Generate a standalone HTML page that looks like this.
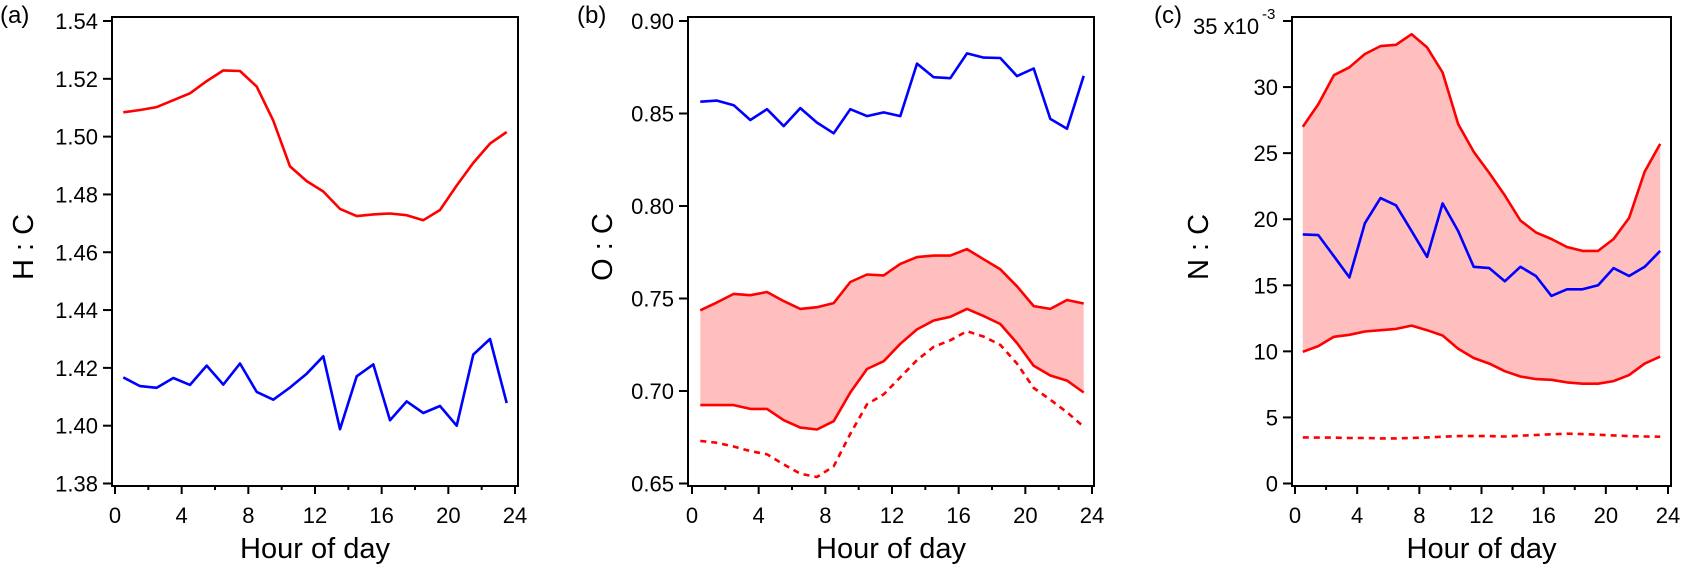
<!DOCTYPE html>
<html><head><meta charset="utf-8"><style>
html,body{margin:0;padding:0;background:#fff;}
svg{display:block;font-family:"Liberation Sans",Arial,sans-serif;}
</style></head><body>
<svg id="chart" width="1681" height="565" viewBox="0 0 1681 565" xmlns="http://www.w3.org/2000/svg"></svg>
<script>
const hours = [0.5,1.5,2.5,3.5,4.5,5.5,6.5,7.5,8.5,9.5,10.5,11.5,12.5,13.5,14.5,15.5,16.5,17.5,18.5,19.5,20.5,21.5,22.5,23.5];
const xTicks = [0,4,8,12,16,20,24];
const hcRed = [1.5084,1.5092,1.5102,1.5126,1.515,1.5192,1.5229,1.5227,1.5173,1.5055,1.4897,1.4846,1.481,1.475,1.4725,1.4731,1.4734,1.4728,1.4711,1.4746,1.4831,1.4909,1.4976,1.5016];
const hcBlue = [1.4167,1.4137,1.4131,1.4165,1.4141,1.4208,1.4142,1.4215,1.4117,1.409,1.4132,1.418,1.424,1.3988,1.4171,1.4212,1.4019,1.4084,1.4044,1.4068,1.4,1.4246,1.43,1.4078];
const hcTicks = [1.38,1.40,1.42,1.44,1.46,1.48,1.50,1.52,1.54];
const hcTickLabels = ["1.38","1.40","1.42","1.44","1.46","1.48","1.50","1.52","1.54"];
const ocBlue = [0.8564,0.857,0.8545,0.8465,0.8523,0.8432,0.8529,0.8451,0.8393,0.8523,0.8486,0.8506,0.8486,0.877,0.8696,0.8691,0.8825,0.8802,0.88,0.8702,0.8743,0.8471,0.8418,0.8704];
const ocUpper = [0.7436,0.7479,0.7525,0.7518,0.7535,0.7486,0.7444,0.7453,0.7475,0.7589,0.763,0.7625,0.7687,0.7724,0.7732,0.7732,0.7767,0.7712,0.7658,0.7566,0.7459,0.7444,0.7492,0.7473];
const ocLower = [0.6924,0.6924,0.6924,0.6903,0.6903,0.6842,0.6802,0.6792,0.6837,0.6992,0.7119,0.7161,0.7255,0.7333,0.7381,0.7401,0.7444,0.7405,0.7362,0.7259,0.7136,0.7084,0.7056,0.6992];
const ocDashed = [0.673,0.672,0.67,0.6675,0.6658,0.6603,0.6553,0.6535,0.6593,0.6768,0.6928,0.6982,0.7074,0.7167,0.7239,0.7274,0.7323,0.7294,0.7249,0.7148,0.7016,0.6953,0.6885,0.6807];
const ocTicks = [0.65,0.70,0.75,0.80,0.85,0.90];
const ocTickLabels = ["0.65","0.70","0.75","0.80","0.85","0.90"];
const ncUpper = [27.0,28.7,30.9,31.5,32.5,33.1,33.2,34.0,33.0,31.1,27.2,25.1,23.5,21.8,19.9,19.0,18.5,17.9,17.6,17.6,18.5,20.1,23.6,25.7];
const ncBlue = [18.85,18.8,17.2,15.6,19.7,21.6,21.05,19.1,17.15,21.2,19.1,16.4,16.3,15.3,16.4,15.7,14.2,14.7,14.7,15.0,16.3,15.7,16.4,17.6];
const ncLower = [9.97,10.4,11.1,11.25,11.5,11.6,11.7,11.95,11.6,11.2,10.2,9.5,9.07,8.5,8.1,7.9,7.85,7.65,7.55,7.55,7.75,8.2,9.07,9.6];
const ncDashed = [3.49,3.47,3.47,3.44,3.44,3.41,3.41,3.44,3.49,3.54,3.59,3.59,3.59,3.56,3.62,3.67,3.72,3.77,3.74,3.69,3.64,3.59,3.56,3.54];
const ncTicks = [0,5,10,15,20,25,30,35];
const ncTickLabels = ["0","5","10","15","20","25","30","35"];

const NS = "http://www.w3.org/2000/svg";
const svg = document.getElementById('chart');
function mk(tag, attrs, parent, text){
  const e = document.createElementNS(NS, tag);
  for (const k in attrs) e.setAttribute(k, attrs[k]);
  if (text !== undefined) e.textContent = text;
  (parent || svg).appendChild(e);
  return e;
}

function panel(cfg){
  const g = mk('g', {});
  
  
  const X = h => cfg.x0 + (h - 0) / 24 * (cfg.x24 - cfg.x0);
  const Y = v => cfg.yTop + (cfg.vMax - v) / (cfg.vMax - cfg.vMin) * (cfg.yBot - cfg.yTop);
  const pts = arr => arr.map((v,i) => X(hours[i]).toFixed(1) + ',' + Y(v).toFixed(1)).join(' ');

  if (cfg.upper) {
    const poly = pts(cfg.upper) + ' ' + cfg.lower.map((v,i)=>i).reverse().map(i => X(hours[i]).toFixed(1)+','+Y(cfg.lower[i]).toFixed(1)).join(' ');
    const f = mk('polygon', {points: poly, fill: '#ffbfbf', stroke: 'none'}, g);
    
    
  }
  cfg.series.forEach(s => {
    const l = mk('polyline', {points: pts(s.data), fill: 'none', stroke: s.color, 'stroke-width': 2.6, 'stroke-linejoin': 'round', 'stroke-dasharray': s.dash || 'none'}, g);
    
    
  });

  const fr = mk('rect', {x: cfg.fx0, y: 17, width: cfg.fx1 - cfg.fx0, height: 486 - 17, fill: 'none', stroke: '#000', 'stroke-width': 2}, g);
  
  

  cfg.yTicks.forEach((v,i) => {
    const y = Y(v);
    mk('line', {x1: cfg.fx0 - 9, x2: cfg.fx0, y1: y, y2: y, stroke: '#000', 'stroke-width': 2}, g);
    const t = mk('text', {x: cfg.fx0 - 14, y: y + 8, 'text-anchor': 'end', 'font-size': 22}, g, cfg.yLabels[i]);
    
    
  });
  for (let h = 0; h <= 24; h += 2) {
    const x = X(h);
    mk('line', {x1: x, x2: x, y1: 486, y2: (h % 4 === 0) ? 494 : 490, stroke: '#000', 'stroke-width': 2}, g);
  }
  xTicks.forEach(h => {
    const t = mk('text', {x: X(h), y: 523, 'text-anchor': 'middle', 'font-size': 22}, g, String(h));
    
    
  });
  const xt = mk('text', {x: (cfg.fx0 + cfg.fx1) / 2, y: 558, 'text-anchor': 'middle', 'font-size': 29}, g, 'Hour of day');
  
  
  const yt = mk('text', {x: 0, y: 0, 'text-anchor': 'middle', 'font-size': 29, transform: 'translate(' + (cfg.titleX + 10) + ',247) rotate(-90)'}, g, cfg.title);
  
  
  const pl = mk('text', {x: cfg.labelX, y: 23, 'font-size': 24}, g, cfg.label);
  
  
  return g;
}

panel({name:'panel-a-hc', x0:115, x24:515, fx0:112, fx1:518, yTop:21, yBot:483.5, vMin:1.38, vMax:1.54,
  yTicks: hcTicks, yLabels: hcTickLabels, title:'H : C', titleX:23, label:'(a)', labelX:0,
  series:[{name:'hc-red-line', data:hcRed, color:'#ff0000'},{name:'hc-blue-line', data:hcBlue, color:'#0000ff'}]});

panel({name:'panel-b-oc', x0:692, x24:1092, fx0:688, fx1:1094, yTop:21, yBot:483.5, vMin:0.65, vMax:0.90,
  yTicks: ocTicks, yLabels: ocTickLabels, title:'O : C', titleX:602, label:'(b)', labelX:577,
  upper: ocUpper, lower: ocLower,
  series:[{name:'oc-upper-red-line', data:ocUpper, color:'#ff0000'},{name:'oc-lower-red-line', data:ocLower, color:'#ff0000'},
          {name:'oc-dashed-red-line', data:ocDashed, color:'#ff0000', dash:'6,5'},{name:'oc-blue-line', data:ocBlue, color:'#0000ff'}]});

panel({name:'panel-c-nc', x0:1295, x24:1668, fx0:1292, fx1:1671, yTop:21, yBot:483.5, vMin:0, vMax:35,
  yTicks: ncTicks.slice(0,7), yLabels: ncTickLabels.slice(0,7), title:'N : C', titleX:1198, label:'(c)', labelX:1154,
  upper: ncUpper, lower: ncLower,
  series:[{name:'nc-upper-red-line', data:ncUpper, color:'#ff0000'},{name:'nc-lower-red-line', data:ncLower, color:'#ff0000'},
          {name:'nc-dashed-red-line', data:ncDashed, color:'#ff0000', dash:'6,5'},{name:'nc-blue-line', data:ncBlue, color:'#0000ff'}]});

// top tick of panel c with exponent label
const yc35 = 21;
mk('line', {x1: 1283, x2: 1292, y1: yc35, y2: yc35, stroke: '#000', 'stroke-width': 2});
const ex = mk('text', {x: 1193, y: 34, 'font-size': 22}, svg, '35 x10');


const ex2 = mk('text', {x: 1262, y: 19, 'font-size': 15}, svg, '-3');


</script>
</body></html>
